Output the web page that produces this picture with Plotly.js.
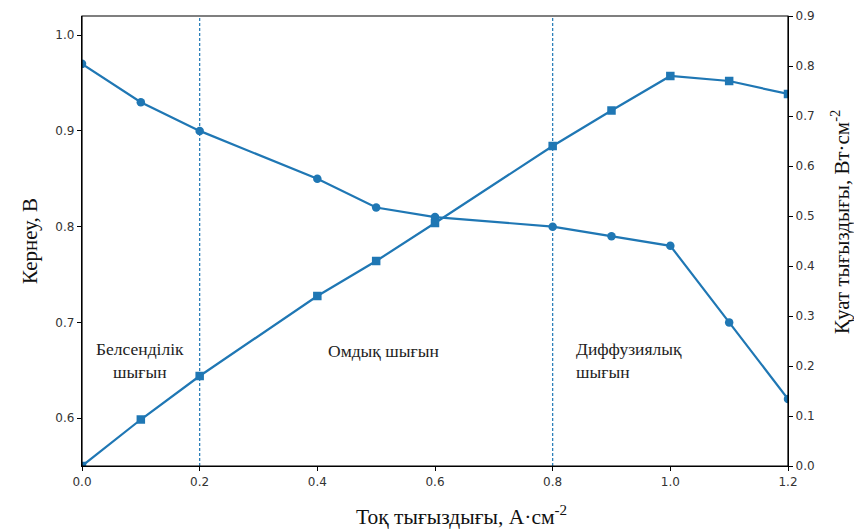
<!DOCTYPE html>
<html>
<head>
<meta charset="utf-8">
<script src="https://cdn.plot.ly/plotly-3.0.1.min.js"></script>
<style>body{margin:0;padding:0;background:#fff}#chart{width:854px;height:529px}</style>
</head>
<body>
<div id="chart"></div>
<script>
const current = [0.0, 0.1, 0.2, 0.4, 0.5, 0.6, 0.8, 0.9, 1.0, 1.1, 1.2];
const voltage = [0.97, 0.93, 0.90, 0.85, 0.82, 0.81, 0.80, 0.79, 0.78, 0.70, 0.62];
const power = [0.0, 0.093, 0.18, 0.34, 0.41, 0.486, 0.64, 0.711, 0.78, 0.77, 0.744];
const regionBounds = [0.2, 0.8];
const regionLabels = ["Белсенділік<br>шығын", "Омдық шығын", "Диффузиялық<br>шығын"];
const regionLabelX = [0.099, 0.512, 0.836];
const regionLabelY = [0.660, 0.670, 0.660];

const color = '#1f77b4';
const serif = 'Liberation Serif, Times New Roman, serif';
const tickFont = {family: 'DejaVu Sans, sans-serif', size: 12, color: '#333'};

const traces = [
  {x: current, y: voltage, mode: 'lines+markers', line: {color: color, width: 2.2},
   marker: {symbol: 'circle', size: 8.5, color: color}, yaxis: 'y', showlegend: false},
  {x: current, y: power, mode: 'lines+markers', line: {color: color, width: 2.2},
   marker: {symbol: 'square', size: 8.5, color: color}, yaxis: 'y2', showlegend: false}
];

const shapes = regionBounds.map(v => ({type: 'line', xref: 'x', yref: 'paper', x0: v, x1: v, y0: 0, y1: 1,
  line: {color: color, width: 1.2, dash: '3px,2px'}}));
shapes.push({type: 'rect', xref: 'paper', yref: 'paper', x0: 0, x1: 1, y0: 0, y1: 1,
  line: {color: '#000', width: 1.2}, fillcolor: 'rgba(0,0,0,0)'});

const W = 854, H = 529, ML = 82, MR = 66, MT = 16, MB = 63;
const px = x => (x - ML) / (W - ML - MR);
const py = y => (H - MB - y) / (H - MT - MB);

const annFont = {family: serif, size: 17.5, color: '#222'};
const titleFont = {family: serif, size: 21, color: '#111'};
const annotations = [
  {x: regionLabelX[0], y: regionLabelY[0], xref: 'x', yref: 'y', text: regionLabels[0], showarrow: false,
   font: annFont, align: 'center', xanchor: 'center', yanchor: 'middle'},
  {x: regionLabelX[1], y: regionLabelY[1], xref: 'x', yref: 'y', text: regionLabels[1], showarrow: false,
   font: annFont, align: 'center', xanchor: 'center', yanchor: 'middle'},
  {x: regionLabelX[2], y: regionLabelY[2], xref: 'x', yref: 'y', text: regionLabels[2], showarrow: false,
   font: annFont, align: 'left', xanchor: 'left', yanchor: 'middle'},
  {x: px(841), y: py(222), xref: 'paper', yref: 'paper', text: 'Қуат тығыздығы, Вт·см<sup>-2</sup>', showarrow: false,
   textangle: -90, font: titleFont, xanchor: 'center', yanchor: 'middle'},
  {x: px(461), y: py(515), xref: 'paper', yref: 'paper', text: 'Тоқ тығыздығы, А·см<sup>-2</sup>', showarrow: false,
   font: {family: serif, size: 21.5, color: '#111'}, xanchor: 'center', yanchor: 'middle'}
];

const layout = {
  width: W, height: H,
  margin: {l: ML, r: MR, t: MT, b: MB},
  paper_bgcolor: '#fff', plot_bgcolor: '#fff',
  showlegend: false,
  xaxis: {range: [0, 1.2], tickvals: [0, 0.2, 0.4, 0.6, 0.8, 1.0, 1.2],
    ticktext: ['0.0', '0.2', '0.4', '0.6', '0.8', '1.0', '1.2'],
    ticks: 'outside', ticklen: 4, tickcolor: '#000', showgrid: false, zeroline: false,
    showline: true, linecolor: '#000', linewidth: 1.2, tickfont: tickFont},
  yaxis: {range: [0.55, 1.02], tickvals: [0.6, 0.7, 0.8, 0.9, 1.0],
    ticktext: ['0.6', '0.7', '0.8', '0.9', '1.0'],
    ticks: 'outside', ticklen: 4, tickcolor: '#000', showgrid: false, zeroline: false,
    showline: true, linecolor: '#000', linewidth: 1.2, tickfont: tickFont,
    title: {text: 'Кернеу, В', font: titleFont, standoff: 12}},
  yaxis2: {range: [0, 0.9], overlaying: 'y', side: 'right', dtick: 0.1, tickformat: '.1f',
    ticks: 'outside', ticklen: 4, tickcolor: '#000', showgrid: false, zeroline: false,
    showline: true, linecolor: '#000', linewidth: 1.2, tickfont: tickFont},
  shapes: shapes,
  annotations: annotations
};

Plotly.newPlot('chart', traces, layout, {displayModeBar: false, staticPlot: true});
</script>
</body>
</html>
